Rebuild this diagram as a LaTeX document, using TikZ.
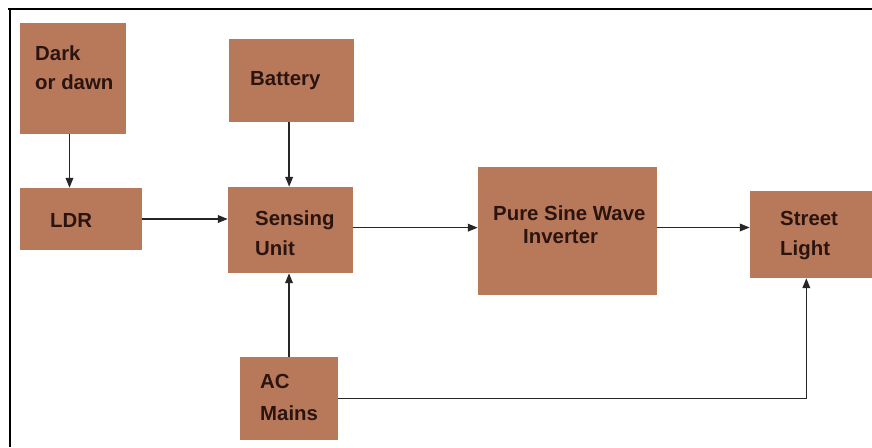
\documentclass[tikz,border=0pt]{standalone}
\usepackage{fontspec}
\setmainfont{Liberation Sans}
\usetikzlibrary{arrows.meta,positioning,calc}
\definecolor{boxfill}{HTML}{B8795A}
\definecolor{ink}{HTML}{2B1410}

\begin{document}
\begin{tikzpicture}[x=0.03cm, y=-0.03cm,
  blk/.style={rectangle, fill=boxfill, inner sep=0pt},
  txt/.style={anchor=base west, inner sep=0pt, text=ink, font=\fontsize{17.4}{20}\selectfont\bfseries},
  arr/.style={-{Triangle[length=8.5pt, width=6.5pt]}, line width=1.4pt, black!85},
  frm/.style={line width=1.7pt, black}
]
  \useasboundingbox (0,0) rectangle (872,447);
  % frame
  \draw[frm] (8,9) -- (872,9);
  \draw[frm] (10,9) -- (10,447);
  % blocks
  \node[blk, minimum width=3.18cm, minimum height=3.33cm] (dark) at (73,78.5) {};
  \node[blk, minimum width=3.75cm, minimum height=2.49cm] (batt) at (291.5,80.5) {};
  \node[blk, minimum width=3.66cm, minimum height=1.86cm] (ldr) at (81,219) {};
  \node[blk, minimum width=3.75cm, minimum height=2.58cm] (sens) at (290.5,230) {};
  \node[blk, minimum width=5.37cm, minimum height=3.84cm] (inv) at (567.5,231) {};
  \node[blk, minimum width=3.66cm, minimum height=2.61cm] (street) at (811,234.5) {};
  \node[blk, minimum width=2.94cm, minimum height=2.49cm] (ac) at (289,398.5) {};
  % labels
  \node[txt] (tdark) at (35,60) {Dark};
  \node[txt] (tdawn) at (35,89) {or dawn};
  \node[txt] (tbatt) at (250,85) {Battery};
  \node[txt] (tldr) at (50,227) {LDR};
  \node[txt] (tsens) at (255,225) {Sensing};
  \node[txt] (tunit) at (255,255) {Unit};
  \node[txt] (tpure) at (493,220) {Pure Sine Wave};
  \node[txt] (tinv) at (523,243) {Inverter};
  \node[txt] (tstreet) at (780,225) {Street};
  \node[txt] (tlight) at (780,255) {Light};
  \node[txt] (tac) at (260,388) {AC};
  \node[txt] (tmains) at (260,420) {Mains};
  % connections
  \draw[arr] ([xshift=-3]dark.south) -- ([xshift=-3]dark.south |- ldr.north);
  \draw[arr] ([xshift=-2]batt.south) -- ([xshift=-2]batt.south |- sens.north);
  \draw[arr] (ldr.east) -- (ldr.east -| sens.west);
  \draw[arr] ([yshift=2]sens.east) -- ([yshift=2]sens.east -| inv.west);
  \draw[arr] ([yshift=3]inv.east) -- ([yshift=3]inv.east -| street.west);
  \draw[arr] (ac.north) -- (ac.north |- sens.south);
  \draw[arr] (ac.east) -| ([xshift=-4]street.south);
\end{tikzpicture}
\end{document}
